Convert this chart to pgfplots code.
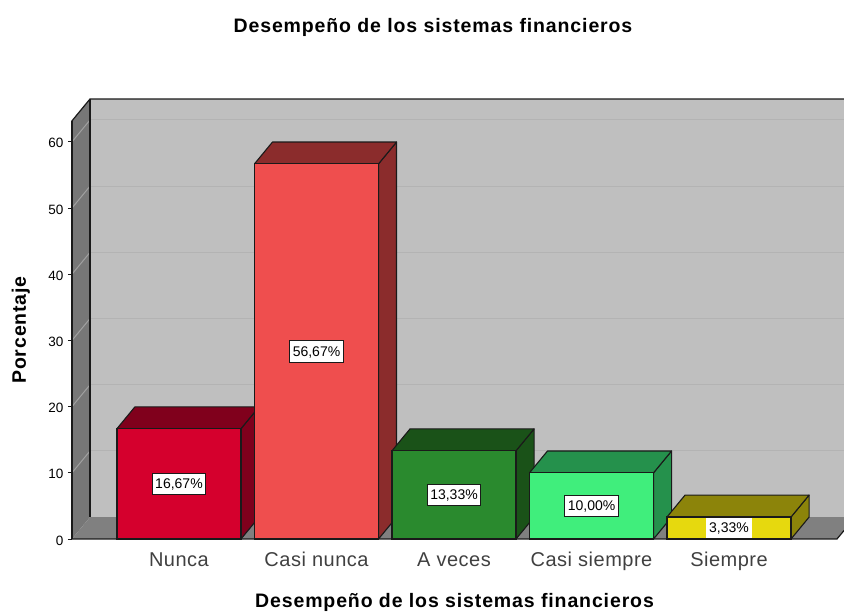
\documentclass[border=0pt]{standalone}
\usepackage{fontspec}
\setmainfont{Liberation Sans}
\newfontfamily\spaced[LetterSpace=4.5]{Liberation Sans}
\newfontfamily\spacedlight[LetterSpace=2.5]{Liberation Sans}
\usepackage{pgfplots}
\pgfplotsset{compat=1.18}

\definecolor{wall}{HTML}{BFBFBF}
\definecolor{sidewall}{HTML}{777777}
\definecolor{floorc}{HTML}{808080}
\definecolor{gridb}{HTML}{B3B3B3}
\definecolor{gridl}{HTML}{A0A0A0}
\definecolor{edge}{HTML}{1A1A1A}
\definecolor{aF}{HTML}{D5002D}\definecolor{aD}{HTML}{80001C}
\definecolor{bF}{HTML}{EF4E4E}\definecolor{bD}{HTML}{8B2C2C}
\definecolor{cF}{HTML}{2A8A2E}\definecolor{cD}{HTML}{1A5218}
\definecolor{dF}{HTML}{40EE7C}\definecolor{dD}{HTML}{25914C}
\definecolor{eF}{HTML}{E6D90E}\definecolor{eD}{HTML}{8C840A}

\pgfplotsset{
  face/.style={fill=#1, draw=edge, line width=1.1pt, line join=round},
  front/.style={ybar, bar shift=0pt, bar width=124pt, fill=#1, draw=edge, line width=1.1pt},
}

\begin{document}
\begin{tikzpicture}[x=1pt,y=1pt]
\path[use as bounding box] (0,0) rectangle (844,612);
\begin{axis}[
  at={(72pt,73pt)}, anchor=south west,
  scale only axis, width=772pt, height=440pt,
  xmin=-0.778, xmax=4.836, ymin=0, ymax=66.47,
  clip=false,
  axis line style={draw=none},
  xtick={0,1,2,3,4},
  xticklabels={Nunca,Casi nunca,A veces,Casi siempre,Siempre},
  x tick style={draw=none},
  xtick pos=bottom,
  x tick label style={font=\spacedlight\fontsize{20}{21}\selectfont, text=black!75, anchor=base, yshift=-24pt},
  ytick={0,10,20,30,40,50,60},
  ytick pos=left,
  tick align=outside,
  major tick length=4pt,
  y tick style={edge, line width=0.7pt},
  y tick label style={font=\fontsize{13.5}{14}\selectfont, yshift=-1.5pt, xshift=-1pt},
  /pgf/number format/assume math mode=true,
  title={Desempeño de los sistemas financieros},
  title style={at={(0.4676,1.1485)}, anchor=center, font=\spaced\bfseries\fontsize{19.5}{22}\selectfont},
  xlabel={Desempeño de los sistemas financieros},
  xlabel style={at={(axis description cs:0.4955,-0.1445)}, anchor=center, font=\spaced\bfseries\fontsize{19.5}{22}\selectfont},
  ylabel={Porcentaje},
  ylabel style={at={(axis description cs:-0.0662,0.475)}, anchor=center, font=\spaced\bfseries\fontsize{19.5}{22}\selectfont},
  every node near coord/.style={anchor=center, fill=white, draw=edge, line width=0.8pt,
    inner xsep=3pt, inner ysep=4.5pt, text height=11pt, text depth=1.5pt, text=black,
    font=\fontsize{14}{14}\selectfont},
]
% walls and floor
\addplot[fill=wall, draw=none] coordinates {(-0.647,3.3) (4.836,3.3) (4.836,66.47) (-0.647,66.47)};
\addplot[fill=sidewall, draw=none] coordinates {(-0.778,0) (-0.647,3.3) (-0.647,66.47) (-0.778,63.17)};
\addplot[fill=floorc, draw=none] coordinates {(-0.778,0) (4.785,0) (4.836,1.28) (4.836,3.3) (-0.647,3.3)};
% grid on the walls
\addplot[gridb, line width=1pt] coordinates {(-0.647,13.3) (4.836,13.3)};
\addplot[gridb, line width=1pt] coordinates {(-0.647,23.3) (4.836,23.3)};
\addplot[gridb, line width=1pt] coordinates {(-0.647,33.3) (4.836,33.3)};
\addplot[gridb, line width=1pt] coordinates {(-0.647,43.3) (4.836,43.3)};
\addplot[gridb, line width=1pt] coordinates {(-0.647,53.3) (4.836,53.3)};
\addplot[gridb, line width=1pt] coordinates {(-0.647,63.3) (4.836,63.3)};
\addplot[gridl, line width=1pt] coordinates {(-0.778,10) (-0.647,13.3)};
\addplot[gridl, line width=1pt] coordinates {(-0.778,20) (-0.647,23.3)};
\addplot[gridl, line width=1pt] coordinates {(-0.778,30) (-0.647,33.3)};
\addplot[gridl, line width=1pt] coordinates {(-0.778,40) (-0.647,43.3)};
\addplot[gridl, line width=1pt] coordinates {(-0.778,50) (-0.647,53.3)};
\addplot[gridl, line width=1pt] coordinates {(-0.778,60) (-0.647,63.3)};
% outlines
\addplot[edge, line width=1.2pt] coordinates {(-0.778,0) (-0.778,63.17) (-0.647,66.47) (4.836,66.47)};
\addplot[edge, line width=1.2pt] coordinates {(-0.778,63.17) (-0.778,0)};
\addplot[edge, line width=1.2pt] coordinates {(-0.647,66.47) (-0.647,3.3)};
\addplot[edge, line width=1.2pt] coordinates {(-0.778,0) (4.785,0) (4.836,1.28)};
% Nunca
\addplot[face=aD] coordinates {(0.451,0) (0.582,3.3) (0.582,19.97) (0.451,16.67) (0.451,0)};
\addplot[face=aD] coordinates {(-0.451,16.67) (-0.320,19.97) (0.582,19.97) (0.451,16.67) (-0.451,16.67)};
\addplot[front=aF] coordinates {(0,16.67)};
% Casi nunca
\addplot[face=bD] coordinates {(1.451,0) (1.582,3.3) (1.582,59.97) (1.451,56.67) (1.451,0)};
\addplot[face=bD] coordinates {(0.549,56.67) (0.680,59.97) (1.582,59.97) (1.451,56.67) (0.549,56.67)};
\addplot[front=bF] coordinates {(1,56.67)};
% A veces
\addplot[face=cD] coordinates {(2.451,0) (2.582,3.3) (2.582,16.63) (2.451,13.33) (2.451,0)};
\addplot[face=cD] coordinates {(1.549,13.33) (1.680,16.63) (2.582,16.63) (2.451,13.33) (1.549,13.33)};
\addplot[front=cF] coordinates {(2,13.33)};
% Casi siempre
\addplot[face=dD] coordinates {(3.451,0) (3.582,3.3) (3.582,13.3) (3.451,10) (3.451,0)};
\addplot[face=dD] coordinates {(2.549,10) (2.680,13.3) (3.582,13.3) (3.451,10) (2.549,10)};
\addplot[front=dF] coordinates {(3,10)};
% Siempre
\addplot[face=eD] coordinates {(4.451,0) (4.582,3.3) (4.582,6.63) (4.451,3.33) (4.451,0)};
\addplot[face=eD] coordinates {(3.549,3.33) (3.680,6.63) (4.582,6.63) (4.451,3.33) (3.549,3.33)};
\addplot[front=eF] coordinates {(4,3.33)};
% value labels
\addplot[draw=none, nodes near coords, point meta=explicit symbolic] coordinates {
  (0,8.33)[16,67\%] (1,28.35)[56,67\%] (2,6.65)[13,33\%] (3,5)[10,00\%]};
\addplot[draw=none, nodes near coords, point meta=explicit symbolic,
  every node near coord/.append style={draw=none, inner ysep=3.8pt}] coordinates {(4,1.65)[3,33\%]};
\end{axis}
\end{tikzpicture}
\end{document}
